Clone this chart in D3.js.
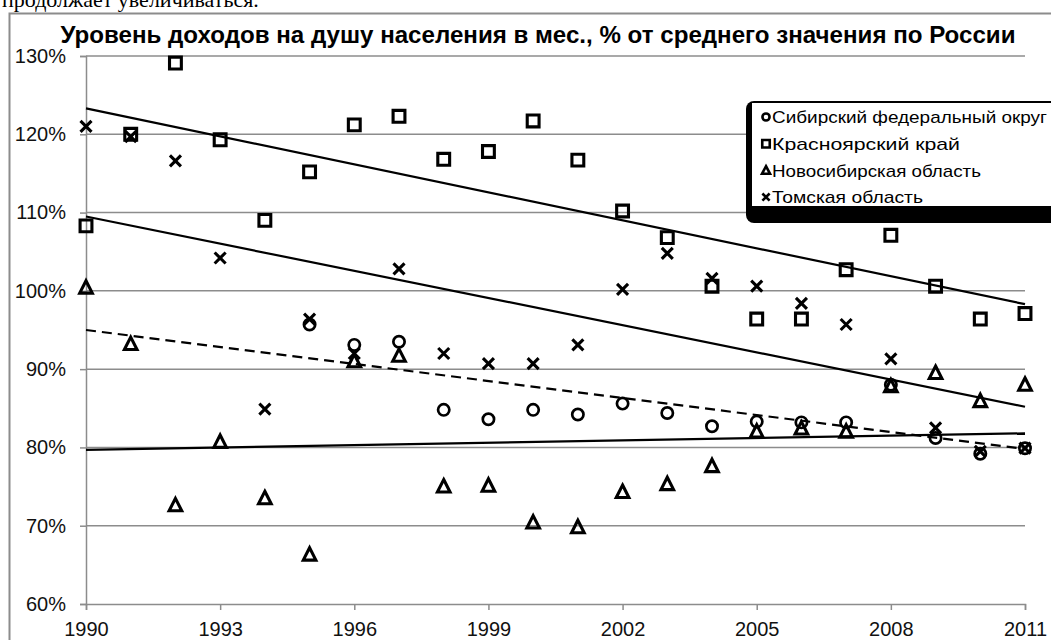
<!DOCTYPE html>
<html>
<head>
<meta charset="utf-8">
<script src="https://cdn.jsdelivr.net/npm/d3@7"></script>
<style>
  body { margin: 0; background: #fff; }
  svg { display: block; font-family: Arial, "Liberation Sans", sans-serif; }
</style>
</head>
<body>
<svg id="chart" width="1051" height="640"></svg>
<script>
// Data (% of the Russian average)
const years = [1990,1991,1992,1993,1994,1995,1996,1997,1998,1999,2000,
               2001,2002,2003,2004,2005,2006,2007,2008,2009,2010,2011];

const seriesNames = ["Сибирский федеральный округ", "Красноярский край",
                     "Новосибирская область", "Томская область"];

const sfo = [null,null,null,null,null,95.7,93.1,93.5,84.8,83.6,84.8,
             84.2,85.6,84.4,82.7,83.3,83.2,83.2,88.0,81.2,79.2,79.9];
const krasnoyarsk = [108.3,120.0,129.1,119.3,109.0,115.2,121.2,122.3,116.8,117.8,121.7,
                     116.7,110.2,106.8,100.6,96.4,96.4,102.7,107.1,100.6,96.4,97.1];
const novosibirsk = [100.4,93.2,72.6,80.7,73.5,66.3,91.0,91.7,75.0,75.1,70.4,
                     69.8,74.3,75.3,77.6,82.0,82.4,82.0,87.8,89.5,85.9,88.0];
const tomsk = [121.0,119.7,116.6,104.2,84.9,96.4,92.0,102.8,92.0,90.7,90.7,
               93.1,100.2,104.8,101.6,100.6,98.4,95.7,91.3,82.5,79.5,79.9];

// linear trend lines: value at 1990 and at 2011
const trendStart = [95.0, 123.3, 79.7, 109.5];
const trendEnd   = [79.8, 98.3, 81.8, 85.2];

const yTicks = [60,70,80,90,100,110,120,130];
const xTicks = [1990,1993,1996,1999,2002,2005,2008,2011];

const titleText = "Уровень доходов на душу населения в мес., % от среднего значения по России";
const aboveText = "продолжает увеличиваться.";

const svg = d3.select("#chart");
const axisGray = "#8c8c8c";

const x = d3.scaleLinear().domain([1990, 2011]).range([86, 1025]);
const y = d3.scaleLinear().domain([60, 130]).range([604, 56]);

// text of the document above the chart (cut off at the top)
svg.append("text")
    .attr("x", 2).attr("y", 7)
    .attr("font-family", "'Liberation Serif', 'Times New Roman', serif")
    .attr("font-size", 22)
    .text(aboveText);

// chart frame
svg.append("path")
    .attr("d", "M 9.5,660 L 9.5,13.5 L 1070,13.5")
    .attr("fill", "none")
    .attr("stroke", axisGray)
    .attr("stroke-width", 2);

// gridlines
svg.append("g").attr("class", "grid")
  .selectAll("line")
  .data(yTicks.slice(1))
  .enter().append("line")
    .attr("x1", x(1990)).attr("x2", x(2011))
    .attr("y1", d => y(d)).attr("y2", d => y(d))
    .attr("stroke", axisGray)
    .attr("stroke-width", 1.5);

// axes
const yAxis = d3.axisLeft(y).tickValues(yTicks).tickFormat(d => d + "%").tickSize(6).tickPadding(14);
const xAxis = d3.axisBottom(x).tickValues(xTicks).tickFormat(d3.format("d")).tickSize(6).tickPadding(12);

const gy = svg.append("g").attr("class", "yaxis")
    .attr("transform", `translate(${x(1990)},0)`)
    .call(yAxis);
const gx = svg.append("g").attr("class", "xaxis")
    .attr("transform", `translate(0,${y(60)})`)
    .call(xAxis);

[gx, gy].forEach(g => {
  g.select(".domain").attr("stroke", axisGray).attr("stroke-width", 1.5);
  g.selectAll(".tick line").attr("stroke", axisGray).attr("stroke-width", 1.5);
  g.selectAll(".tick text")
    .attr("fill", "#111")
    .attr("font-size", 20)
    .attr("font-family", "Arial, 'Liberation Sans', sans-serif");
});

// title
svg.append("text")
    .attr("x", 538).attr("y", 43)
    .attr("text-anchor", "middle")
    .attr("font-size", 23)
    .attr("font-weight", "bold")
    .attr("textLength", 955)
    .attr("lengthAdjust", "spacingAndGlyphs")
    .text(titleText);

// trend lines
const trends = svg.append("g").attr("class", "trends");
trendStart.forEach((v, i) => {
  trends.append("line")
    .attr("x1", x(1990)).attr("y1", y(v))
    .attr("x2", x(2011)).attr("y2", y(trendEnd[i]))
    .attr("stroke", "#000")
    .attr("stroke-width", 2.2)
    .attr("stroke-dasharray", i === 0 ? "10,6" : null);
});

// marker shapes
const markerPath = {
  circle: d3.symbol().type(d3.symbolCircle).size(100)(),
  square: d3.symbol().type(d3.symbolSquare).size(140)(),
  triangle: "M 0,-7 L 6.3,5.4 L -6.3,5.4 Z",
  cross: "M -5.5,-5.5 L 5.5,5.5 M 5.5,-5.5 L -5.5,5.5"
};
const shapes = ["circle", "square", "triangle", "cross"];
const allSeries = [sfo, krasnoyarsk, novosibirsk, tomsk];

allSeries.forEach((vals, i) => {
  const pts = years.map((yr, j) => ({year: yr, value: vals[j]})).filter(d => d.value !== null);
  svg.append("g").attr("class", "series-" + i)
    .selectAll("path")
    .data(pts)
    .enter().append("path")
      .attr("transform", d => `translate(${x(d.year)},${y(d.value)})`)
      .attr("d", markerPath[shapes[i]])
      .attr("fill", "none")
      .attr("stroke", "#000")
      .attr("stroke-width", shapes[i] === "circle" ? 2.7 : 3.1)
      .attr("stroke-linejoin", "miter");
});

// legend
const legend = svg.append("g").attr("class", "legend");
legend.append("rect")
    .attr("x", 746).attr("y", 101).attr("width", 330).attr("height", 122)
    .attr("rx", 8)
    .attr("fill", "#000");
legend.append("rect")
    .attr("x", 752).attr("y", 103).attr("width", 320).attr("height", 103)
    .attr("fill", "#fff");

const legendMarks = {
  circle: d3.symbol().type(d3.symbolCircle).size(40)(),
  square: d3.symbol().type(d3.symbolSquare).size(56)(),
  triangle: "M 0,-4.2 L 4,3.4 L -4,3.4 Z",
  cross: "M -3.6,-3.6 L 3.6,3.6 M 3.6,-3.6 L -3.6,3.6"
};
const legendWidths = [275, 188, 209, 151];

seriesNames.forEach((name, i) => {
  const ly = 117 + i * 26.7;
  legend.append("path")
    .attr("transform", `translate(${766},${ly})`)
    .attr("d", legendMarks[shapes[i]])
    .attr("fill", "none")
    .attr("stroke", "#000")
    .attr("stroke-width", 2.6);
  legend.append("text")
    .attr("x", 772).attr("y", ly)
    .attr("dy", "0.36em")
    .attr("font-size", 17)
    .attr("textLength", legendWidths[i])
    .attr("lengthAdjust", "spacingAndGlyphs")
    .text(name);
});
</script>
</body>
</html>
